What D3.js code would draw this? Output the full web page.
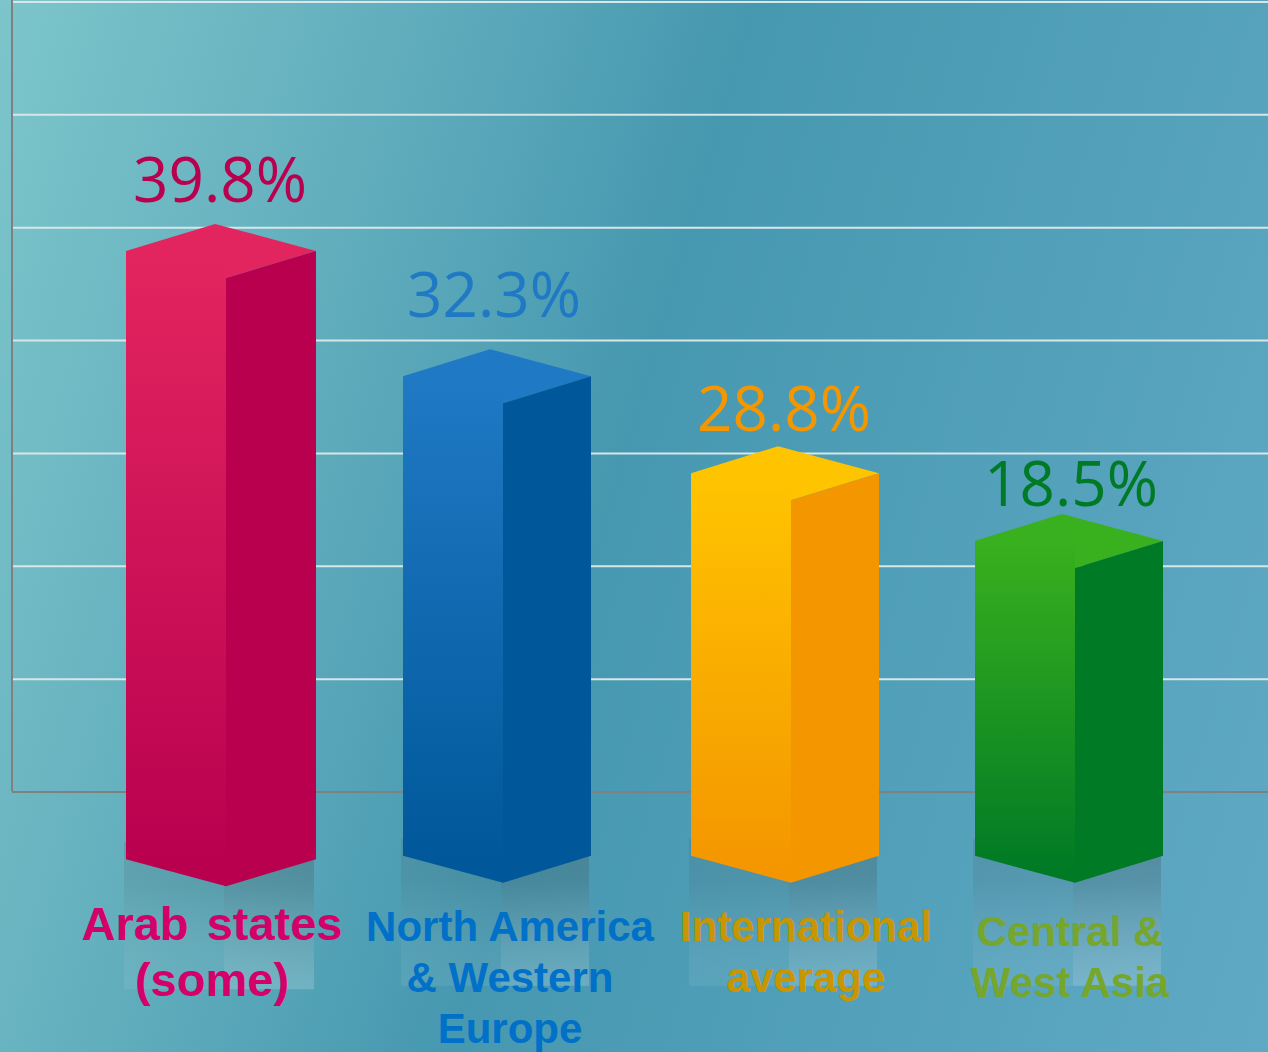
<!DOCTYPE html>
<html>
<head>
<meta charset="utf-8">
<style>
  html, body { margin: 0; padding: 0; overflow: hidden; }
  svg { display: block; }
</style>
<script src="https://d3js.org/d3.v7.min.js"></script>
</head>
<body>
<div id="chart"></div>
<script>
// data
var categories = ["Arab states", "North America", "International", "Central"];
var labelLines = [
  ["Arab states", "(some)"],
  ["North America", "& Western", "Europe"],
  ["International", "average"],
  ["Central &", "West Asia"]
];
var values = [39.8, 32.3, 28.8, 18.5];
// drawn bar ends, measured in gridline steps (the bars sit below the baseline too)
var topLevels = [4.79, 3.68, 2.82, 2.22];
var bottomLevels = [-0.6, -0.57, -0.57, -0.57];
var gridLevels = [0, 1, 2, 3, 4, 5, 6, 7];

// set graph dimensions
var svgWidth = 1268;
var svgHeight = 1052;

var frontColors = [["#e3255f", "#b8004f"], ["#2079c4", "#00589a"], ["#ffc400", "#f49600"], ["#39b01e", "#007a25"]];
var valueColors = ["#b8004f", "#2079c4", "#f49600", "#007a25"];
var labelColors = ["#d4006a", "#0070c8", "#c89600", "#76a62c"];

// small layout fixes per bar
var barNudge = [0, -6, -1, 0];
var barExtra = [2, 0, 0, 0];
var valueCenter = [94, 91, 93, 96];
var valueGap = [22, 32, 15, 8];
var labelCenter = [86, 107, 115, 95];
var labelSize = [47, 42, 42, 42];
var labelBaseline = [940, 941, 941, 946];
var labelLeading = [56, 51, 51, 51];
var depth = 27;
var frontWidth = 100;

var svg = d3.select("#chart")
  .append("svg")
  .attr("width", svgWidth)
  .attr("height", svgHeight);

var defs = svg.append("defs");

// background
var bg = defs.append("linearGradient")
  .attr("id", "bg")
  .attr("gradientUnits", "userSpaceOnUse")
  .attr("x1", 0).attr("y1", 0)
  .attr("x2", 1451).attr("y2", 418);
bg.append("stop").attr("offset", 0).attr("stop-color", "#7cc5cb");
bg.append("stop").attr("offset", 0.2).attr("stop-color", "#68b3c0");
bg.append("stop").attr("offset", 0.48).attr("stop-color", "#4698b0");
bg.append("stop").attr("offset", 1).attr("stop-color", "#60a9c5");

svg.append("rect")
  .attr("width", svgWidth)
  .attr("height", svgHeight)
  .attr("fill", "url(#bg)");

// scales
var xScale = d3.scaleBand()
  .domain(categories)
  .range([126, 1163])
  .paddingInner(1 - 188 / 283)
  .paddingOuter(0);

var yScale = d3.scaleLinear()
  .domain([0, 7])
  .range([791.5, 1.5]);

// gridlines through the axis
var leftAxis = d3.axisLeft(yScale)
  .tickValues(gridLevels)
  .tickSize(-(svgWidth - 12))
  .tickFormat("");

var gridGroup = svg.append("g")
  .attr("transform", "translate(12, 0)")
  .call(leftAxis);

gridGroup.select(".domain").remove();
gridGroup.selectAll(".tick line")
  .attr("stroke", d => d === 0 ? "#808080" : "#d8e6e8")
  .attr("stroke-width", 2);

gridGroup.append("line")
  .attr("x1", 0)
  .attr("x2", 0)
  .attr("y1", 0)
  .attr("y2", yScale(0))
  .attr("stroke", "#808080")
  .attr("stroke-width", 2);

// gradients for faces and reflections
frontColors.forEach(function(c, i) {
  var g = defs.append("linearGradient")
    .attr("id", "front" + i)
    .attr("x1", 0).attr("y1", 0)
    .attr("x2", 0).attr("y2", 1);
  g.append("stop").attr("offset", 0).attr("stop-color", c[0]);
  g.append("stop").attr("offset", 0.97).attr("stop-color", c[1]);
});

function shine(id, topColor, topAlpha, endColor, endAlpha) {
  var g = defs.append("linearGradient")
    .attr("id", id)
    .attr("x1", 0).attr("y1", 0)
    .attr("x2", 0).attr("y2", 1);
  g.append("stop").attr("offset", 0).attr("stop-color", topColor).attr("stop-opacity", topAlpha);
  g.append("stop").attr("offset", 0.3).attr("stop-color", topColor).attr("stop-opacity", topAlpha * 0.7);
  g.append("stop").attr("offset", 1).attr("stop-color", endColor).attr("stop-opacity", endAlpha);
}
shine("shineLeft", "#4a5a60", 0.2, "#ffffff", 0.07);
shine("shineRight", "#4a5a60", 0.36, "#ffffff", 0.18);

// bars
var bars = svg.selectAll("g.bar")
  .data(categories)
  .enter()
  .append("g")
  .attr("class", "bar");

bars.each(function(d, i) {
  var g = d3.select(this);
  var left = xScale(d) + barNudge[i];
  var right = left + xScale.bandwidth() + barExtra[i];
  var mid = left + frontWidth;
  var top = yScale(topLevels[i]);
  var bottom = yScale(bottomLevels[i]);
  var apex = right - mid + left - 1;

  // reflection under the bar
  var shineTop = bottom - 17;
  var shineHeight = 147;
  g.append("rect")
    .attr("x", left - 2)
    .attr("y", shineTop)
    .attr("width", frontWidth)
    .attr("height", shineHeight)
    .attr("fill", "url(#shineLeft)");
  g.append("rect")
    .attr("x", mid - 2)
    .attr("y", shineTop)
    .attr("width", right - mid)
    .attr("height", shineHeight)
    .attr("fill", "url(#shineRight)");

  // top face
  g.append("path")
    .attr("d", d3.line()([[left, top], [apex, top - depth], [right, top], [mid, top + depth]]) + "Z")
    .attr("fill", frontColors[i][0]);
  // front face, its square top runs under the lid so no seam shows
  g.append("path")
    .attr("d", d3.line()([[left, top], [mid, top], [mid, bottom + depth], [left, bottom]]) + "Z")
    .attr("fill", "url(#front" + i + ")");
  // side face
  g.append("path")
    .attr("d", d3.line()([[mid, top + depth], [right, top], [right, bottom], [mid, bottom + depth]]) + "Z")
    .attr("fill", frontColors[i][1]);

  // value above the bar
  g.append("text")
    .attr("x", left + valueCenter[i])
    .attr("y", top - depth - valueGap[i])
    .attr("text-anchor", "middle")
    .style("font-family", "'Open Sans', sans-serif")
    .style("font-size", "62px")
    .style("fill", valueColors[i])
    .text(values[i].toFixed(1) + "%");

  // category label
  g.append("text")
    .selectAll("tspan")
    .data(labelLines[i])
    .enter()
    .append("tspan")
    .attr("x", left + labelCenter[i])
    .attr("y", (l, j) => labelBaseline[i] + j * labelLeading[i])
    .attr("text-anchor", "middle")
    .style("font-family", "'Liberation Sans', Arial, sans-serif")
    .style("font-weight", "bold")
    .style("font-size", labelSize[i] + "px")
    .style("word-spacing", i === 0 ? "5px" : "0")
    .style("fill", labelColors[i])
    .text(l => l);
});
</script>
</body>
</html>
